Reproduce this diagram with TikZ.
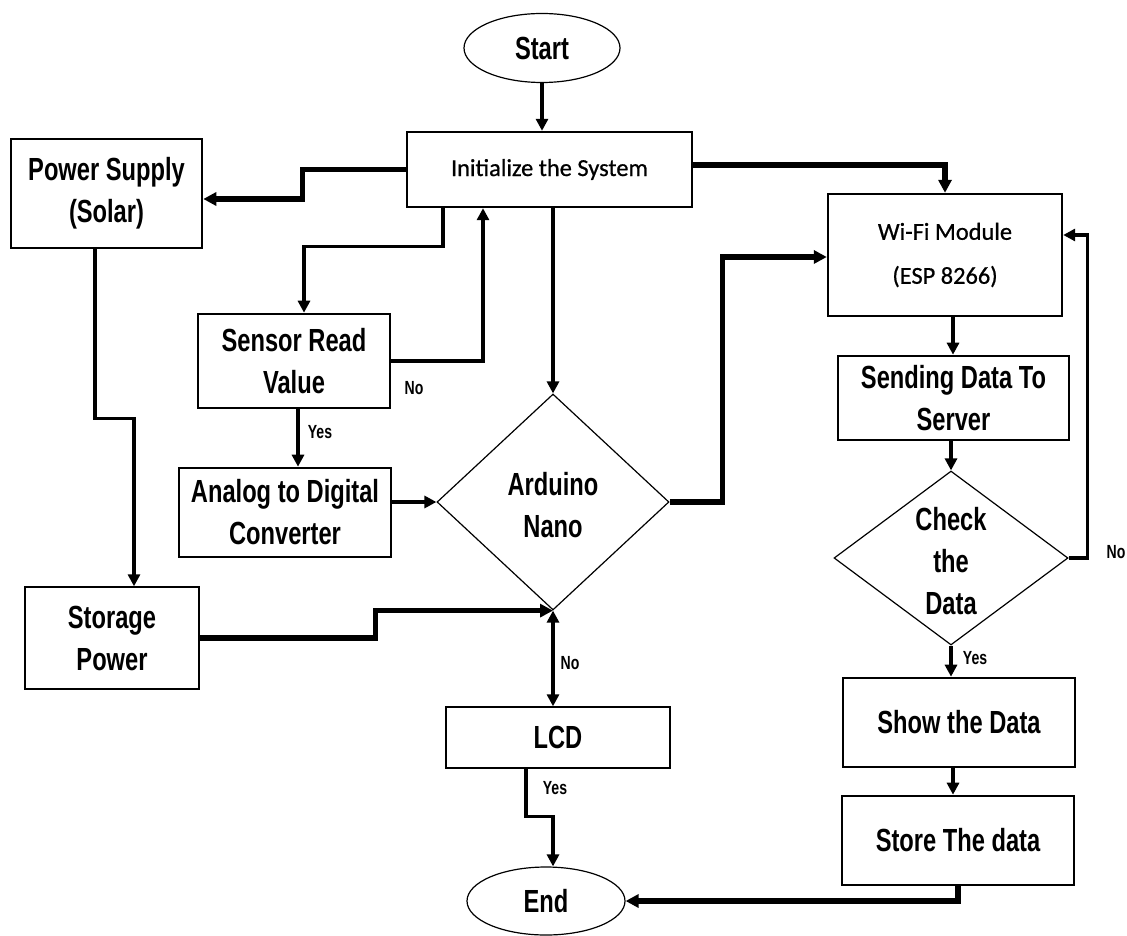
\documentclass[tikz,border=0pt]{standalone}
\usepackage{fontspec}
\usetikzlibrary{shapes.geometric,arrows.meta}
\newfontfamily\nb[FakeStretch=0.74]{Liberation Sans}
\newfontfamily\calfont[FakeBold=0.7]{Carlito}
\begin{document}
\begin{tikzpicture}[x=0.5pt,y=-0.5pt,
  mainfont/.style={font=\nb\bfseries\fontsize{16pt}{21pt}\selectfont},
  box/.style={draw, line width=1.3pt, rectangle, align=center, inner sep=0pt, mainfont},
  thinbox/.style={draw, line width=0.7pt, rectangle, align=center, inner sep=0pt, mainfont},
  cbox/.style={draw, line width=1.2pt, rectangle, align=center, inner sep=0pt, font=\calfont\fontsize{12.2pt}{22pt}\selectfont},
  dia/.style={draw, diamond, line width=0.6pt, inner sep=0pt},
  dtext/.style={align=center, inner sep=0pt, mainfont},
  oval/.style={draw, ellipse, line width=0.6pt, inner sep=0pt, mainfont},
  lbl/.style={inner sep=0pt, font=\nb\bfseries\fontsize{9.5pt}{10pt}\selectfont},
  arr/.style={line width=1.6pt, -{Triangle[length=6pt,width=6pt]}},
  tarr/.style={line width=2.6pt, -{Triangle[length=6.5pt,width=6.5pt]}},
  darr/.style={line width=1.6pt, {Triangle[length=6pt,width=6pt]}-{Triangle[length=6pt,width=6pt]}}
]
\useasboundingbox[fill=white] (0,0) rectangle (1127,935);

% nodes
\node[oval, minimum width=78pt, minimum height=34.5pt] (start) at (542,48) {Start};
\node[cbox, minimum width=142.5pt, minimum height=37.5pt] (init) at (549.5,169.5) {Initialize the System};
\node[box, minimum width=95.5pt, minimum height=54.5pt] (power) at (106.5,193.5) {Power Supply\\(Solar)};
\node[cbox, minimum width=117pt, minimum height=61pt] (wifi) at (945,255) {Wi-Fi Module\\(ESP 8266)};
\node[box, minimum width=96pt, minimum height=47pt] (sensor) at (294,361) {Sensor Read\\Value};
\node[box, minimum width=106pt, minimum height=44.5pt] (adc) at (285,512.5) {Analog to Digital\\Converter};
\node[dia, minimum width=116pt, minimum height=108pt] (arduino) at (553,502) {};
\node[dtext] (arduinot) at (553,505) {Arduino\\Nano};
\node[box, minimum width=115.5pt, minimum height=42pt] (sending) at (953.5,398) {Sending Data To\\Server};
\node[dia, minimum width=117pt, minimum height=87pt] (check) at (951,558) {};
\node[dtext] (checkt) at (951,561) {Check\\the\\Data};
\node[thinbox, minimum width=87pt, minimum height=51pt] (storage) at (112,638) {Storage\\Power};
\node[thinbox, minimum width=112pt, minimum height=30.5pt] (lcd) at (558,737.5) {LCD};
\node[box, minimum width=116pt, minimum height=44.5pt] (show) at (959,722.5) {Show the Data};
\node[box, minimum width=116pt, minimum height=44.5pt] (store) at (958,840.5) {Store The data};
\node[oval, minimum width=79pt, minimum height=34pt] (end) at (546,901) {End};

% labels
\node[lbl] (no1) at (414,388) {No};
\node[lbl] (yes1) at (320,432) {Yes};
\node[lbl] (no2) at (570,663) {No};
\node[lbl] (yes2) at (555,788) {Yes};
\node[lbl] (no3) at (1116,552) {No};
\node[lbl] (yes3) at (975,658) {Yes};

% connectors
\draw[arr] (start.south) -- (start.south |- init.north);
\draw[tarr] (init.west) -- ++(-103,0) |- ([yshift=-2.75pt]power.east);
\draw[tarr] ([yshift=2.25pt]init.east) -| (wifi.north);
\draw[arr] ([xshift=-53.25pt]init.south) -- ++(0,38) -| ([xshift=5pt]sensor.north);
\draw[arr] (sensor.east) -| ([xshift=-33.25pt]init.south);
\draw[arr] (arduino.north |- init.south) -- (arduino.north);
\draw[arr] ([xshift=2pt]sensor.south) -- ([xshift=2pt]sensor.south |- adc.north);
\draw[arr] (arduino.west -| adc.east) -- (arduino.west);
\draw[tarr] (arduino.east) -- ++(53,0) |- ([yshift=-1pt]wifi.west);
\draw[arr] ([xshift=-5.75pt]power.south) -- ++(0,169) -| ([xshift=11pt]storage.north);
\draw[tarr] (storage.east) -- ++(176,0) |- (arduino.south);
\draw[darr] (arduino.south) -- (arduino.south |- lcd.north);
\draw[arr] ([xshift=-16pt]lcd.south) -- ++(0,48) -| ([xshift=3.5pt]end.north);
\draw[arr] ([xshift=4pt]wifi.south) -- ([xshift=4pt]wifi.south |- sending.north);
\draw[arr] (check.north |- sending.south) -- (check.north);
\draw[arr] (check.east) -- ++(19,0) |- ([yshift=10pt]wifi.east);
\draw[arr] (check.south) -- (check.south |- show.north);
\draw[arr] ([xshift=-3pt]show.south) -- ([xshift=-3pt]show.south |- store.north);
\draw[tarr] (store.south) |- (end.east);
\end{tikzpicture}
\end{document}
